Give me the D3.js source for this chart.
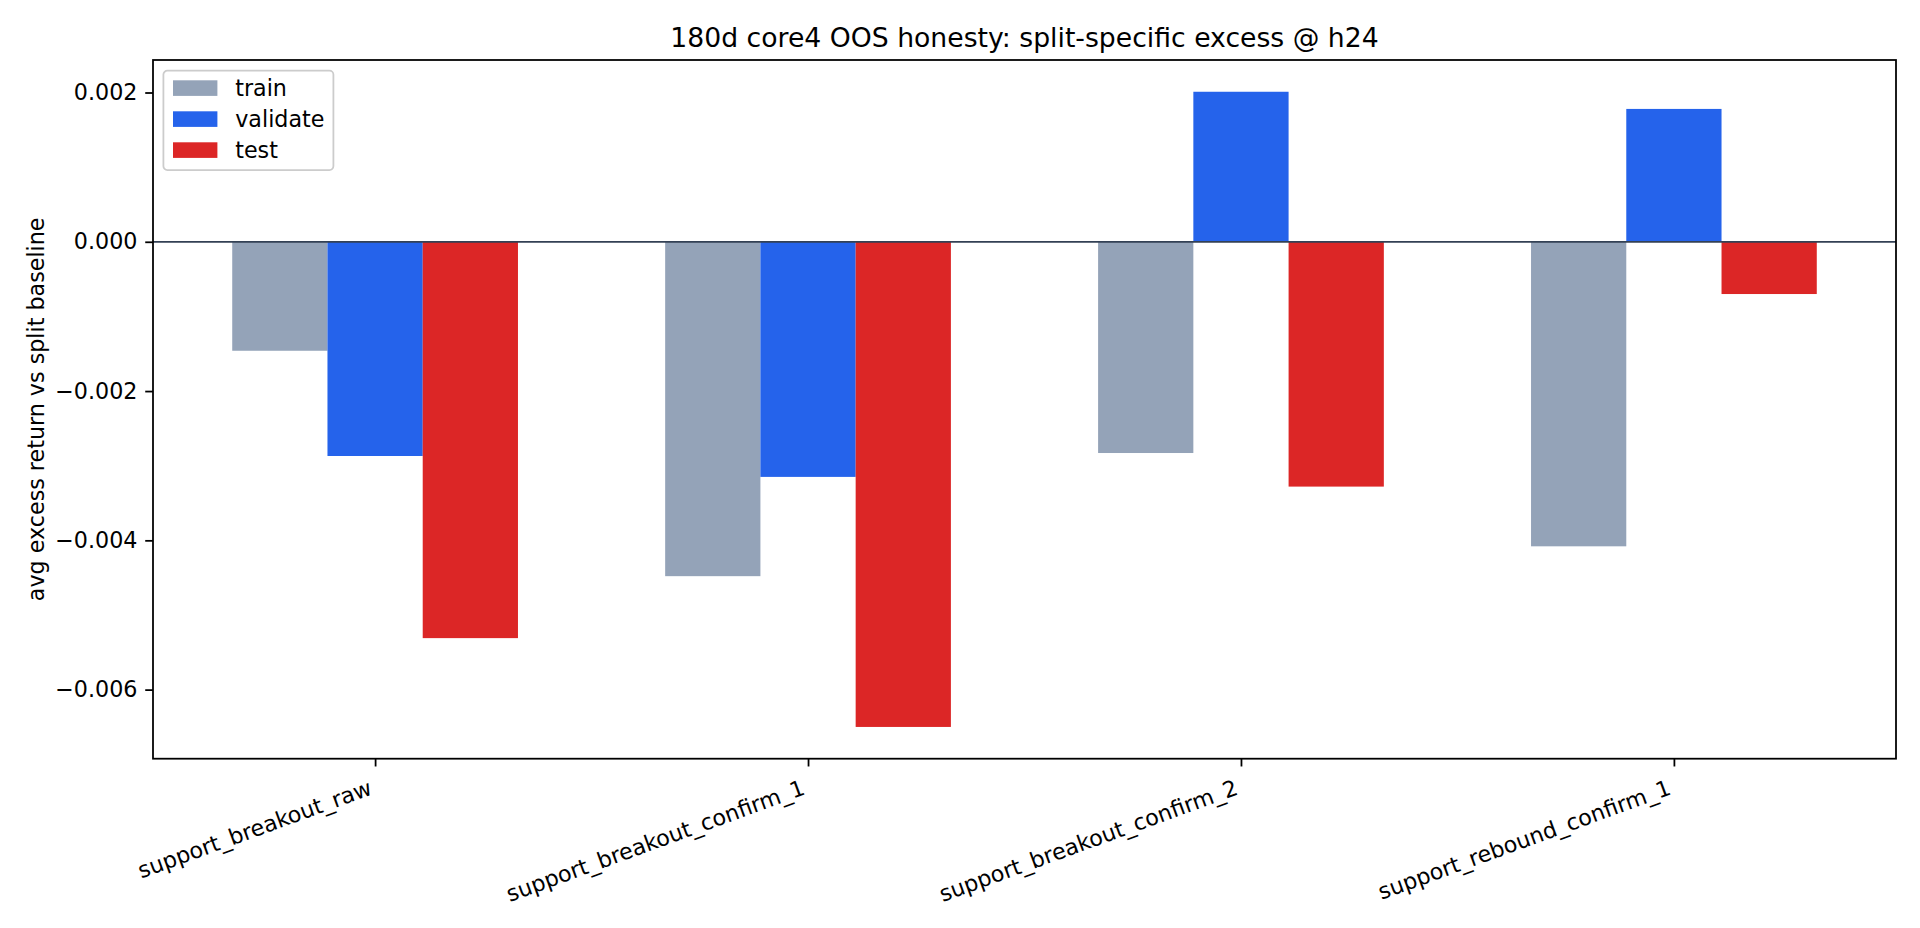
<!DOCTYPE html>
<html>
<head>
<meta charset="utf-8">
<script src="https://cdn.jsdelivr.net/npm/d3@7"></script>
<style>
  html, body { margin: 0; padding: 0; background: #ffffff; }
  svg { display: block; font-family: "DejaVu Sans", sans-serif; }
</style>
</head>
<body>
<svg id="chart" width="1920" height="928"></svg>
<script>
// ---- data ----
const categories = ["support_breakout_raw", "support_breakout_confirm_1", "support_breakout_confirm_2", "support_rebound_confirm_1"];
const seriesNames = ["train", "validate", "test"];
const trainValues = [-0.00146, -0.00448, -0.00283, -0.00408];
const validateValues = [-0.00287, -0.00315, 0.00201, 0.00178];
const testValues = [-0.00531, -0.00650, -0.00328, -0.00070];
const yTicks = [0.002, 0.000, -0.002, -0.004, -0.006];
const titleText = "180d core4 OOS honesty: split-specific excess @ h24";
const yLabelText = "avg excess return vs split baseline";

// ---- styling / layout ----
const colors = { train: "#94a3b8", validate: "#2563eb", test: "#dc2626" };
const seriesValues = { train: trainValues, validate: validateValues, test: testValues };
const barWidth = 0.22;
const offsets = { train: -barWidth, validate: 0, test: barWidth };

const plot = { left: 153, right: 1896, top: 60, bottom: 758.7 };
const fs = 22.22;      // 10pt @160dpi
const tickLen = 7.78, tickPad = 7.78, lw = 1.78;

const svg = d3.select("#chart");
svg.append("rect").attr("width", 1920).attr("height", 928).attr("fill", "#ffffff");

// x scale (matplotlib-like 5% margins)
const xMin = -0.33, xMax = categories.length - 1 + 0.33;
const xm = (xMax - xMin) * 0.05;
const x = d3.scaleLinear().domain([xMin - xm, xMax + xm]).range([plot.left, plot.right]);

// y scale
const allVals = [...trainValues, ...validateValues, ...testValues, 0];
const yLo = d3.min(allVals), yHi = d3.max(allVals);
const ym = (yHi - yLo) * 0.05;
const y = d3.scaleLinear().domain([yLo - ym, yHi + ym]).range([plot.bottom, plot.top]);

// bars
const barData = [];
seriesNames.forEach(s => {
  categories.forEach((c, i) => barData.push({ s, i, v: seriesValues[s][i] }));
});
svg.append("g").selectAll("rect").data(barData).join("rect")
  .attr("x", d => x(d.i + offsets[d.s] - barWidth / 2))
  .attr("width", d => x(d.i + offsets[d.s] + barWidth / 2) - x(d.i + offsets[d.s] - barWidth / 2))
  .attr("y", d => y(Math.max(0, d.v)))
  .attr("height", d => Math.abs(y(d.v) - y(0)))
  .attr("fill", d => colors[d.s]);

// zero line
svg.append("line")
  .attr("x1", plot.left).attr("x2", plot.right)
  .attr("y1", y(0)).attr("y2", y(0))
  .attr("stroke", "#334155").attr("stroke-width", 1.8);

// y axis
const yAxis = d3.axisLeft(y).tickValues(yTicks).tickFormat(d3.format(".3f"))
  .tickSize(tickLen).tickPadding(tickPad);
const gy = svg.append("g").attr("transform", `translate(${plot.left},0)`).call(yAxis);
gy.select(".domain").remove();
gy.selectAll(".tick line").attr("stroke", "#000").attr("stroke-width", lw);
gy.selectAll(".tick text").attr("font-size", fs).attr("fill", "#000")
  .attr("font-family", "DejaVu Sans");

// x axis
const xAxis = d3.axisBottom(x).tickValues(d3.range(categories.length))
  .tickFormat(i => categories[i]).tickSize(tickLen).tickPadding(tickPad);
const gx = svg.append("g").attr("transform", `translate(0,${plot.bottom})`).call(xAxis);
gx.select(".domain").remove();
gx.selectAll(".tick line").attr("stroke", "#000").attr("stroke-width", lw);
gx.selectAll(".tick text").remove();

// rotated x tick labels (matplotlib rotation=20, ha='right')
const labelTop = plot.bottom + tickLen + tickPad;
categories.forEach((c, i) => {
  const g = svg.append("g");
  g.append("text")
    .attr("font-size", fs).attr("fill", "#000")
    .attr("text-anchor", "end")
    .attr("transform", "rotate(-20)")
    .text(c);
  const bb = g.node().getBBox();
  const dx = x(i) - (bb.x + bb.width);
  const dy = labelTop - bb.y;
  g.attr("transform", `translate(${dx},${dy})`);
});

// spines
svg.append("rect")
  .attr("x", plot.left).attr("y", plot.top)
  .attr("width", plot.right - plot.left).attr("height", plot.bottom - plot.top)
  .attr("fill", "none").attr("stroke", "#000").attr("stroke-width", lw);

// title
svg.append("text")
  .attr("x", (plot.left + plot.right) / 2).attr("y", plot.top - 13.3)
  .attr("text-anchor", "middle").attr("font-size", 26.67).attr("fill", "#000")
  .text(titleText);

// y label
svg.append("text")
  .attr("transform", `translate(35.5,${(plot.top + plot.bottom) / 2}) rotate(-90)`)
  .attr("text-anchor", "middle").attr("dominant-baseline", "central")
  .attr("font-size", fs).attr("fill", "#000")
  .text(yLabelText);

// legend
const lg = svg.append("g").attr("transform", `translate(${plot.left + 10.4},${plot.top + 10.6})`);
lg.append("rect").attr("x", 0).attr("y", 0).attr("width", 170).attr("height", 99.5)
  .attr("rx", 4).attr("ry", 4)
  .attr("fill", "#ffffff").attr("fill-opacity", 0.8)
  .attr("stroke", "#cccccc").attr("stroke-width", lw);
seriesNames.forEach((s, k) => {
  const cy = 17.5 + k * 31;
  lg.append("rect").attr("x", 9.6).attr("y", cy - 7.8).attr("width", 44.4).attr("height", 15.6)
    .attr("fill", colors[s]);
  lg.append("text").attr("x", 71.8).attr("y", cy).attr("dominant-baseline", "central")
    .attr("font-size", fs).attr("fill", "#000").text(s);
});
</script>
</body>
</html>
